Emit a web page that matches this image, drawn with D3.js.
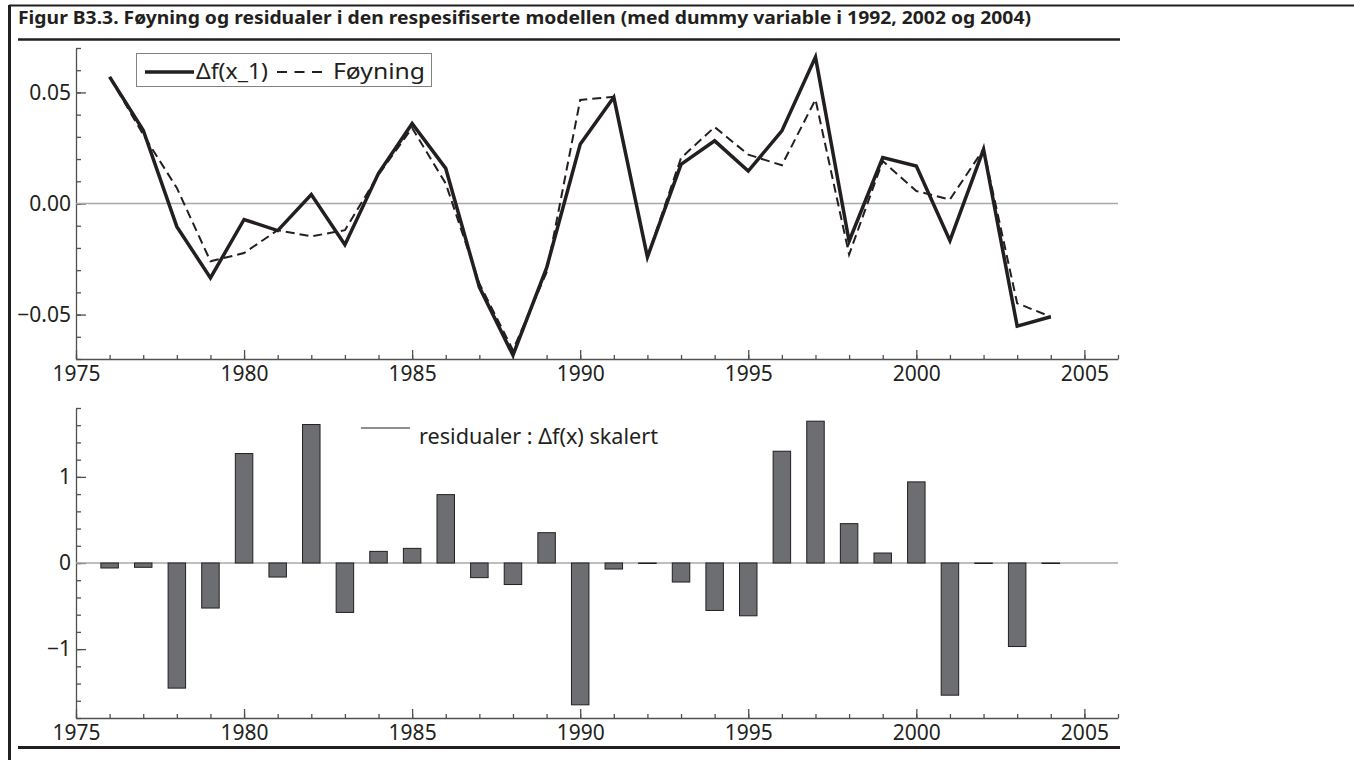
<!doctype html>
<html>
<head>
<meta charset="utf-8">
<script src="https://d3js.org/d3.v7.min.js"></script>
<style>
    body { margin: 0; background: #fff; }
    text { font-family: "Noto Sans", "Open Sans", sans-serif; fill: #231f20; }
    .axis path, .axis line { stroke: #505050; stroke-width: 1.3; }
    .axis text { font-size: 21px; fill: #231f20; font-family: "Noto Sans", sans-serif; }
</style>
</head>
<body>
<svg width="1354" height="760"></svg>
<script>
    // data
    var years = [1976, 1977, 1978, 1979, 1980, 1981, 1982, 1983, 1984, 1985,
                 1986, 1987, 1988, 1989, 1990, 1991, 1992, 1993, 1994, 1995,
                 1996, 1997, 1998, 1999, 2000, 2001, 2002, 2003, 2004];

    var deltaF = [0.057, 0.033, -0.0104, -0.0335, -0.0072, -0.0122, 0.004, -0.0186, 0.0136, 0.036,
                  0.0158, -0.0376, -0.0683, -0.029, 0.0267, 0.0478, -0.0241, 0.0176, 0.0282, 0.0146,
                  0.0327, 0.0659, -0.017, 0.0207, 0.0169, -0.0167, 0.0244, -0.0552, -0.051];

    var foyning = [0.057, 0.031, 0.007, -0.026, -0.0223, -0.012, -0.0148, -0.012, 0.013, 0.034,
                   0.009, -0.036, -0.066, -0.031, 0.0466, 0.048, -0.024, 0.0205, 0.0344, 0.022,
                   0.0172, 0.0468, -0.023, 0.0191, 0.0056, 0.0018, 0.0244, -0.0449, -0.051];

    var residualer = [-0.058, -0.05, -1.453, -0.523, 1.271, -0.163, 1.608, -0.574, 0.135, 0.17,
                      0.794, -0.17, -0.25, 0.352, -1.647, -0.07, 0, -0.221, -0.551, -0.613,
                      1.298, 1.647, 0.457, 0.116, 0.942, -1.535, 0, -0.97, 0];

    var xTicks = [1975, 1980, 1985, 1990, 1995, 2000, 2005];
    var topTicks = [-0.05, 0, 0.05];
    var botTicks = [-1, 0, 1];

    var title = "Figur B3.3. Føyning og residualer i den respesifiserte modellen (med dummy variable i 1992, 2002 og 2004)";

    var svg = d3.select("svg");
    var ink = "#231f20";

    // frame
    svg.append("line").attr("x1", 9).attr("x2", 1354).attr("y1", 5.5).attr("y2", 5.5)
       .attr("stroke", ink).attr("stroke-width", 2);
    svg.append("line").attr("x1", 9.5).attr("x2", 9.5).attr("y1", 5).attr("y2", 760)
       .attr("stroke", ink).attr("stroke-width", 3);
    svg.append("line").attr("x1", 18).attr("x2", 1120).attr("y1", 39.5).attr("y2", 39.5)
       .attr("stroke", ink).attr("stroke-width", 2.5);
    svg.append("line").attr("x1", 18).attr("x2", 1120).attr("y1", 747.5).attr("y2", 747.5)
       .attr("stroke", ink).attr("stroke-width", 3);

    svg.append("text")
       .attr("x", 18)
       .attr("y", 24)
       .attr("font-size", "18px")
       .style("font-weight", "bold")
       .attr("textLength", 1013)
       .attr("lengthAdjust", "spacingAndGlyphs")
       .text(title);

    var x = d3.scaleLinear().domain([1975, 2006]).range([76, 1118]);
    var yTop = d3.scaleLinear().domain([-0.07, 0.07]).range([359, 48]);
    var yBot = d3.scaleLinear().domain([-1.8, 1.8]).range([718, 408]);

    function drawAxes(y, majors, minors, fmt, bottomY) {
        // minor x ticks
        svg.append("g").attr("class", "axis")
           .attr("transform", "translate(0," + bottomY + ")")
           .call(d3.axisBottom(x).tickValues(d3.range(1975, 2007)).tickSize(-4).tickSizeOuter(0).tickFormat(""))
           .select(".domain").remove();
        svg.append("g").attr("class", "axis")
           .attr("transform", "translate(0," + bottomY + ")")
           .call(d3.axisBottom(x).tickValues(xTicks).tickSize(-9).tickSizeOuter(0).tickPadding(7).tickFormat(d3.format("d")));
        // y axis
        svg.append("g").attr("class", "axis")
           .attr("transform", "translate(76,0)")
           .call(d3.axisLeft(y).tickValues(minors).tickSize(-5).tickSizeOuter(0).tickFormat(""));
        svg.append("g").attr("class", "axis")
           .attr("transform", "translate(76,0)")
           .call(d3.axisLeft(y).tickValues(majors).tickSize(-10).tickSizeOuter(0).tickPadding(5).tickFormat(fmt))
           .select(".domain").remove();
        // zero line
        svg.append("line")
           .attr("x1", x(1975)).attr("x2", x(2006))
           .attr("y1", y(0)).attr("y2", y(0))
           .attr("stroke", "#a7a9ac").attr("stroke-width", 1.5);
    }

    // ---- top panel ----
    var topMinor = d3.range(-7, 8).map(function(d) { return d / 100; });
    drawAxes(yTop, topTicks, topMinor, d3.format(".2f"), 359);

    var line = function(vals) {
        return d3.line()
            .x(function(d, i) { return x(years[i]); })
            .y(function(d) { return yTop(d); })(vals);
    };

    svg.append("path")
       .attr("d", line(foyning))
       .attr("fill", "none")
       .attr("stroke", ink)
       .attr("stroke-width", 2)
       .attr("stroke-dasharray", "9,5");

    svg.append("path")
       .attr("d", line(deltaF))
       .attr("fill", "none")
       .attr("stroke", ink)
       .attr("stroke-width", 3.5)
       .attr("stroke-linejoin", "miter");

    // legend top
    var lg = svg.append("g");
    lg.append("rect").attr("x", 136.5).attr("y", 53.5).attr("width", 295).attr("height", 33)
      .attr("fill", "#fff").attr("stroke", "#808285").attr("stroke-width", 1);
    lg.append("line").attr("x1", 145).attr("x2", 194).attr("y1", 72).attr("y2", 72)
      .attr("stroke", ink).attr("stroke-width", 3.5);
    lg.append("text").attr("x", 196).attr("y", 79).attr("font-size", "22px")
      .attr("textLength", 72).attr("lengthAdjust", "spacingAndGlyphs").text("Δf(x_1)");
    lg.append("line").attr("x1", 277).attr("x2", 322).attr("y1", 72).attr("y2", 72)
      .attr("stroke", ink).attr("stroke-width", 2).attr("stroke-dasharray", "10,7.5");
    lg.append("text").attr("x", 333).attr("y", 79).attr("font-size", "22px")
      .attr("textLength", 92).attr("lengthAdjust", "spacingAndGlyphs").text("Føyning");

    // ---- bottom panel ----
    var botMinor = d3.range(-9, 10).map(function(d) { return d / 5; });
    drawAxes(yBot, botTicks, botMinor, d3.format("d"), 718);

    svg.append("g").selectAll("rect")
       .data(residualer)
       .enter().append("rect")
       .attr("x", function(d, i) { return x(years[i] - 0.26); })
       .attr("width", function(d, i) { return x(years[i] + 0.26) - x(years[i] - 0.26); })
       .attr("y", function(d) { return yBot(Math.max(d, 0)); })
       .attr("height", function(d) { return Math.max(Math.abs(yBot(d) - yBot(0)), 0.5); })
       .attr("fill", "#6d6e71")
       .attr("stroke", ink)
       .attr("stroke-width", 1);

    svg.append("line").attr("x1", 361).attr("x2", 410).attr("y1", 428).attr("y2", 428)
       .attr("stroke", ink).attr("stroke-width", 1);
    svg.append("text").attr("x", 419).attr("y", 444).attr("font-size", "21px")
       .attr("textLength", 239).attr("lengthAdjust", "spacingAndGlyphs")
       .text("residualer : Δf(x) skalert");
</script>
</body>
</html>
